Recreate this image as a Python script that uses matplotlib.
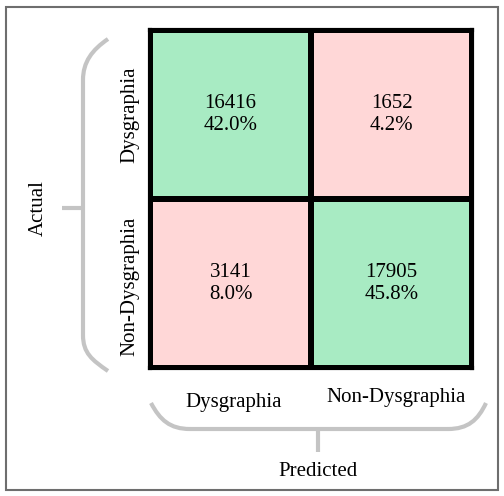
import numpy as np
import matplotlib
matplotlib.use("Agg")
import matplotlib.pyplot as plt
from matplotlib.path import Path
from matplotlib.patches import PathPatch, Rectangle
from matplotlib.colors import ListedColormap
from matplotlib.transforms import ScaledTranslation

# confusion matrix data
classes = ["Dysgraphia", "Non-Dysgraphia"]
counts = [[16416, 1652],
          [3141, 17905]]
percents = [[42.0, 4.2],
            [8.0, 45.8]]
x_label = "Predicted"
y_label = "Actual"

W, H = 504, 496
plt.rcParams['font.family'] = ['Liberation Serif', 'DejaVu Serif']

fig = plt.figure(figsize=(W / 100, H / 100), dpi=100)

# overlay axes in pixel coordinates for frame / brackets / labels
ov = fig.add_axes([0, 0, 1, 1])
ov.set_xlim(0, W)
ov.set_ylim(H, 0)
ov.axis('off')

ov.add_patch(Rectangle((6, 7), 492, 483, fill=False, edgecolor='#6e6e6e', lw=1.5))

bracket = dict(facecolor='none', edgecolor='#c4c4c4', lw=3, capstyle='butt')

# left brace
verts = [(108, 39), (92, 50), (83, 62), (83, 80),
         (83, 335),
         (83, 353), (92, 360), (108, 371),
         (83, 208), (62, 208)]
codes = [Path.MOVETO, Path.CURVE4, Path.CURVE4, Path.CURVE4,
         Path.LINETO,
         Path.CURVE4, Path.CURVE4, Path.CURVE4,
         Path.MOVETO, Path.LINETO]
ov.add_patch(PathPatch(Path(verts, codes), **bracket))

# bottom brace
verts = [(151, 403), (160, 420), (170, 429), (190, 429),
         (448, 429),
         (468, 429), (478, 420), (486, 403),
         (318, 429), (318, 452)]
ov.add_patch(PathPatch(Path(verts, codes), **bracket))

ov.text(38, 208, y_label, rotation=90, ha='center', va='center', fontsize=15)
ov.text(318, 471, x_label, ha='center', va='center', fontsize=15)

# matrix axes
left, top, right, bottom = 150, 30, 472, 368
ax = fig.add_axes([left / W, 1 - bottom / H, (right - left) / W, (bottom - top) / H])
green, pink = '#a8ebc3', '#ffd7d7'
cell_colors = np.eye(len(classes))
ax.pcolormesh(np.arange(3), np.arange(3), cell_colors,
              cmap=ListedColormap([pink, green]), vmin=0, vmax=1,
              edgecolors='black', linewidth=3)
ax.set_xlim(0, 2)
ax.set_ylim(2, 0)
for s in ax.spines.values():
    s.set_linewidth(3)
    s.set_color('black')

for i in range(2):
    for j in range(2):
        ax.text(j + 0.5, i + 0.5, f"{counts[i][j]}\n{percents[i][j]:.1f}%",
                ha='center', va='center', fontsize=15, linespacing=1.15)

ax.set_xticks([0.5, 1.5])
ax.set_xticklabels(classes, fontsize=15)
ax.set_yticks([0.5, 1.5])
ax.set_yticklabels(classes, fontsize=15, rotation=90, va='center')
ax.tick_params(length=0)
ax.tick_params(axis='x', pad=18)
ax.tick_params(axis='y', pad=8)

# small nudges to match the original label placement
xl = ax.get_xticklabels()
xl[0].set_transform(xl[0].get_transform() + ScaledTranslation(0.03, 0, fig.dpi_scale_trans))
xl[1].set_transform(xl[1].get_transform() + ScaledTranslation(0.05, 0.05, fig.dpi_scale_trans))
yl = ax.get_yticklabels()
yl[1].set_transform(yl[1].get_transform() + ScaledTranslation(0, -0.03, fig.dpi_scale_trans))

fig.savefig("out.png", dpi=100)
